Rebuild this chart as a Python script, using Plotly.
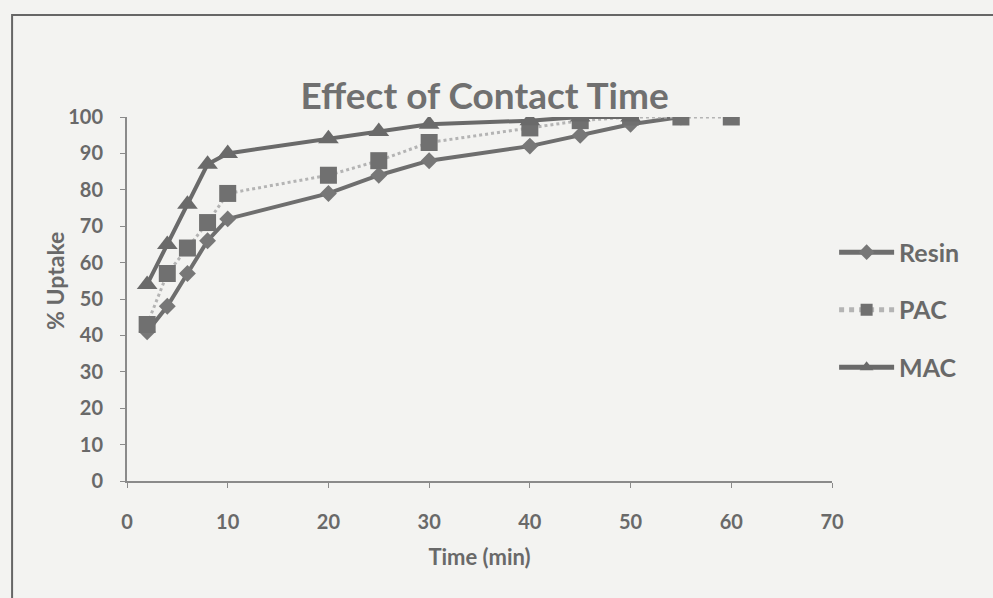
import plotly.graph_objects as go

time_resin = [2, 4, 6, 8, 10, 20, 25, 30, 40, 45, 50, 55]
resin = [41, 48, 57, 66, 72, 79, 84, 88, 92, 95, 98, 100]
time_pac = [2, 4, 6, 8, 10, 20, 25, 30, 40, 45, 50, 55, 60]
pac = [43, 57, 64, 71, 79, 84, 88, 93, 97, 99, 100, 100, 100]
time_mac = [2, 4, 6, 8, 10, 20, 25, 30, 40, 45, 50]
mac = [54, 65, 76, 87, 90, 94, 96, 98, 99, 100, 100]
x_ticks = [0, 10, 20, 30, 40, 50, 60, 70]
y_ticks = list(range(0, 101, 10))

FONT = "Lato"
TXT = "#696969"

fig = go.Figure()
fig.add_trace(go.Scatter(x=time_resin, y=resin, name="<b>Resin</b>", mode="lines+markers",
                         legendgroup="r",
                         line=dict(color="#6e6e6e", width=4),
                         marker=dict(symbol="diamond", size=13, color="#777777")))
fig.add_trace(go.Scatter(x=time_pac, y=pac, name="<b>PAC</b>", mode="lines+markers",
                         legendgroup="p",
                         line=dict(color="#b4b4b4", width=3, dash="dot"),
                         marker=dict(symbol="square", size=17, color="#707070")))
fig.add_trace(go.Scatter(x=time_mac, y=mac, name="<b>MAC</b>", mode="lines+markers",
                         legendgroup="m",
                         line=dict(color="#6a6a6a", width=4),
                         marker=dict(symbol="triangle-up", size=18, color="#6a6a6a")))

fig.update_layout(
    width=993, height=598,
    margin=dict(l=127, r=161, t=117, b=117),
    paper_bgcolor="#f3f3f1", plot_bgcolor="#f3f3f1",
    font=dict(family=FONT, color=TXT),
    title=dict(text="<b>Effect of Contact Time</b>", x=0.488, xanchor="center",
               y=0.84, yanchor="middle", font=dict(size=37, color="#707070", family=FONT)),
    xaxis=dict(range=[0, 70], tickvals=x_ticks,
               ticktext=["<b>%d</b>" % v for v in x_ticks],
               showgrid=False, zeroline=False, showline=True, linecolor="#8a8a8a", linewidth=2,
               ticks="outside", ticklen=5, tickcolor="#8a8a8a", ticklabelstandoff=17,
               tickfont=dict(size=20, color=TXT, family=FONT),
               title=dict(text="<b>Time (min)</b>", font=dict(size=22, color=TXT, family=FONT), standoff=18)),
    yaxis=dict(range=[0, 100], tickvals=y_ticks,
               ticktext=["<b>%d</b>" % v for v in y_ticks],
               showgrid=False, zeroline=False, showline=True, linecolor="#8a8a8a", linewidth=2,
               ticks="outside", ticklen=5, tickcolor="#8a8a8a", ticklabelstandoff=13,
               tickfont=dict(size=20, color=TXT, family=FONT)),
    legend=dict(x=1.003, y=0.47, xanchor="left", yanchor="middle", bgcolor="rgba(0,0,0,0)",
                font=dict(size=25, color=TXT, family=FONT), tracegroupgap=22,
                itemsizing="constant", itemwidth=55, traceorder="grouped"),
    showlegend=True,
)
fig.add_annotation(text="<b>% Uptake</b>", xref="paper", yref="paper", x=-0.102, y=0.55,
                   textangle=-90, showarrow=False, xanchor="center", yanchor="middle",
                   font=dict(size=23, color=TXT, family=FONT))
fig.add_shape(type="rect", xref="paper", yref="paper", x0=-0.163, x1=1.3, y0=-0.4, y1=1.28,
              line=dict(color="#666666", width=2), fillcolor="rgba(0,0,0,0)", layer="below")

fig.write_html("out.html")
